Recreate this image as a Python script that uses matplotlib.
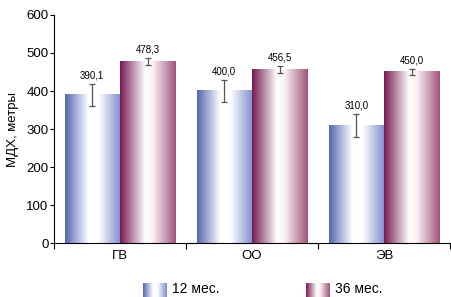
import numpy as np
import matplotlib
matplotlib.use('Agg')
import matplotlib.pyplot as plt
from matplotlib.colors import LinearSegmentedColormap

plt.rcParams['font.family'] = ['Liberation Sans', 'DejaVu Sans']

# data
categories = ['ГВ', 'ОО', 'ЭВ']
series_names = ['12 мес.', '36 мес.']
vals_12 = [390.1, 400.0, 310.0]
vals_36 = [478.3, 456.5, 450.0]
err_12 = [29, 29, 30]
err_36 = [9, 10, 9]
labels_12 = ['390,1', '400,0', '310,0']
labels_36 = ['478,3', '456,5', '450,0']

cmap_blue = LinearSegmentedColormap.from_list(
    'b', [(0, '#5466b0'), (0.42, '#ffffff'), (0.6, '#ffffff'), (1, '#7e8dcb')])
cmap_red = LinearSegmentedColormap.from_list(
    'r', [(0, '#761a50'), (0.45, '#ffffff'), (0.58, '#fbf3f6'), (1, '#a0557a')])

fig = plt.figure(figsize=(4.51, 2.97), dpi=100)
ax = fig.add_axes([0.1197, 0.1818, 0.8783, 0.7677])

x = np.arange(len(categories))
w = 0.42
grad = np.linspace(0, 1, 256).reshape(1, -1)

b1 = ax.bar(x - w/2, vals_12, w, color='none')
b2 = ax.bar(x + w/2, vals_36, w, color='none')
for bars, cm in ((b1, cmap_blue), (b2, cmap_red)):
    for p in bars:
        x0, y0 = p.get_x(), p.get_y()
        ax.imshow(grad, cmap=cm, aspect='auto', interpolation='bilinear',
                  extent=(x0, x0 + p.get_width(), y0, y0 + p.get_height()), zorder=1)

ax.errorbar(x - w/2, vals_12, yerr=err_12, fmt='none', ecolor='#555555',
            elinewidth=0.9, capsize=2.5, capthick=0.9, zorder=3)
ax.errorbar(x + w/2, vals_36, yerr=err_36, fmt='none', ecolor='#555555',
            elinewidth=0.9, capsize=2.5, capthick=0.9, zorder=3)

for xi, v, e, t in zip(x - w/2, vals_12, err_12, labels_12):
    ax.text(xi, v + e + 8, t, ha='center', va='bottom', fontsize=7)
for xi, v, e, t in zip(x + w/2, vals_36, err_36, labels_36):
    ax.text(xi, v + e + 8, t, ha='center', va='bottom', fontsize=7)

ax.set_xlim(-0.5, 2.5)
ax.set_ylim(0, 600)
ax.set_yticks(range(0, 601, 100))
ax.tick_params(axis='y', labelsize=9.5, length=3, width=0.8, pad=1)
ax.set_xticks(x)
ax.set_xticklabels(categories, fontsize=9.5)
ax.tick_params(axis='x', length=0, pad=5)
ax.set_xticks([-0.5, 0.5, 1.5, 2.5], minor=True)
ax.tick_params(axis='x', which='minor', length=4, width=0.8)
for s in ('top', 'right'):
    ax.spines[s].set_visible(False)
ax.set_ylabel('МДХ, метры', fontsize=9.5, labelpad=5)

# legend drawn by hand with gradient swatches
for lx, cm, name in ((0.317, cmap_blue, series_names[0]),
                     (0.679, cmap_red, series_names[1])):
    lax = fig.add_axes([lx, 0.0, 0.053, 0.047])
    lax.imshow(grad, cmap=cm, aspect='auto', interpolation='bilinear')
    lax.axis('off')
    fig.text(lx + 0.064, 0.028, name, fontsize=10, va='center')

fig.savefig('out.png', dpi=100)
